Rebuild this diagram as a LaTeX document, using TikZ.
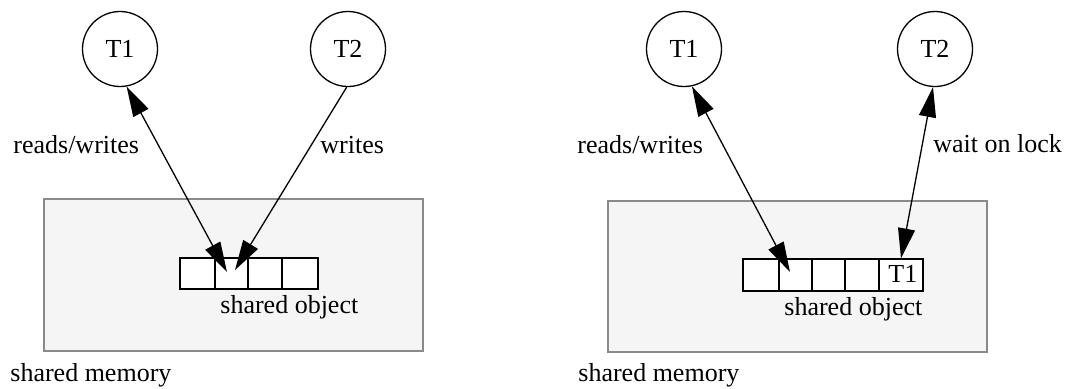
\documentclass[tikz,border=0pt]{standalone}
\usepackage{fontspec}
\setmainfont{Liberation Serif}
\usetikzlibrary{arrows.meta}
\definecolor{memfill}{HTML}{F5F5F5}
\definecolor{memline}{HTML}{8A8A8A}
\tikzset{
  thread/.style={circle, draw, line width=0.65pt, minimum size=37.5pt, inner sep=0pt},
  memory/.style={draw=memline, fill=memfill, line width=0.75pt},
  cell/.style={draw, fill=white, line width=0.65pt, inner sep=0pt},
  lbl/.style={anchor=base west, inner sep=0pt},
  >={Triangle[length=15pt,width=8.5pt]},
  link/.style={line width=0.65pt, ->},
  biglink/.style={line width=0.65pt, <->}
}
\begin{document}
\begin{tikzpicture}[x=0.5pt, y=-0.5pt, font=\fontsize{13}{15}\selectfont]
\useasboundingbox (0,0) rectangle (1070,388);

% ---- left: unsynchronised access ----
\filldraw[memory] (44,199) rectangle (423,351);
\node[thread] (t1) at (120,49) {T1};
\node[thread] (t2) at (348,49) {T2};
\node[cell, minimum width=17.5pt, minimum height=15.5pt] (c1) at (197.5,273.5) {};
\node[cell, minimum width=16.5pt, minimum height=15.5pt] (c2) at (231.5,273.5) {};
\node[cell, minimum width=17pt,   minimum height=15.5pt] (c3) at (265,273.5) {};
\node[cell, minimum width=18pt,   minimum height=15.5pt] (c4) at (300,273.5) {};
\coordinate (rwend) at (227,272);
\coordinate (wend) at (235,270);
\draw[biglink] (t1.-80) -- (rwend);
\draw[link] (t2.-92) -- (wend);
\node[lbl] (rwl) at (13,153) {reads/writes};
\node[lbl] (wl) at (320,153) {writes};
\node[lbl] (sol) at (220,313) {shared object};
\node[lbl] (sml) at (10,381) {shared memory};

% ---- right: access guarded by a lock ----
\filldraw[memory] (608,201) rectangle (987,352);
\node[thread] (u1) at (684,49) {T1};
\node[thread] (u2) at (935,49) {T2};
\node[cell, minimum width=18pt,   minimum height=16pt] (d1) at (761,275) {};
\node[cell, minimum width=16.5pt, minimum height=16pt] (d2) at (795.5,275) {};
\node[cell, minimum width=16.5pt, minimum height=16pt] (d3) at (828.5,275) {};
\node[cell, minimum width=17pt,   minimum height=16pt] (d4) at (862,275) {};
\node[cell, minimum width=22pt,   minimum height=16pt] (d5) at (901,275) {};
\node[lbl] (owner) at (888,282) {T1};
\coordinate (rwend2) at (790,272);
\draw[biglink] (u1.-78) -- (rwend2);
\draw[biglink] (u2.-93) -- (d5.north);
\node[lbl] (rwr) at (577,153) {reads/writes};
\node[lbl] (lockl) at (933,152) {wait on lock};
\node[lbl] (sor) at (784,315) {shared object};
\node[lbl] (smr) at (578,381) {shared memory};
\end{tikzpicture}
\end{document}
